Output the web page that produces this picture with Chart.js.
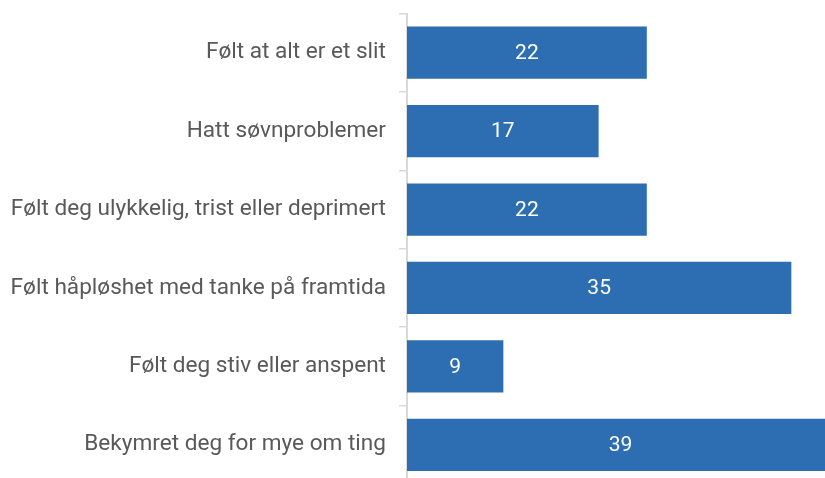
<!DOCTYPE html>
<html>
<head>
<meta charset="utf-8">
<script src="https://cdn.jsdelivr.net/npm/chart.js@4.4.1/dist/chart.umd.min.js"></script>
<style>
  html, body { margin: 0; padding: 0; background: #fff; }
  #wrap { width: 825px; height: 478px; overflow: hidden; position: relative; }
  #box { width: 845px; height: 484px; position: absolute; left: 0; top: 0; }
</style>
</head>
<body>
<div id="wrap"><div id="box"><canvas id="chart"></canvas></div></div>
<script>
const categories = [
  "Følt at alt er et slit",
  "Hatt søvnproblemer",
  "Følt deg ulykkelig, trist eller deprimert",
  "Følt håpløshet med tanke på framtida",
  "Følt deg stiv eller anspent",
  "Bekymret deg for mye om ting"
];
// bar lengths; labels show the rounded figures
const values = [21.9, 17.5, 21.9, 35.1, 8.8, 39.0];
const shownLabels = ["22", "17", "22", "35", "9", "39"];

const barColor = "#2d6eb3";
const axisColor = "#d9d9d9";
const textColor = "#595959";

// white value labels in the middle of each bar
const valueLabels = {
  id: "valueLabels",
  afterDatasetsDraw(chart) {
    const ctx = chart.ctx;
    const meta = chart.getDatasetMeta(0);
    ctx.save();
    ctx.fillStyle = "#ffffff";
    ctx.font = "21px Roboto";
    ctx.textAlign = "center";
    ctx.textBaseline = "middle";
    meta.data.forEach((bar, i) => {
      const cx = (bar.x + bar.base) / 2;
      ctx.fillText(shownLabels[i], cx, bar.y + 1);
    });
    ctx.restore();
  }
};

new Chart(document.getElementById("chart"), {
  type: "bar",
  data: {
    labels: categories,
    datasets: [{
      data: values,
      backgroundColor: barColor,
      categoryPercentage: 0.667,
      barPercentage: 1.0
    }]
  },
  options: {
    indexAxis: "y",
    responsive: true,
    maintainAspectRatio: false,
    animation: false,
    layout: { padding: { top: 13.5, right: 0, bottom: 0, left: 0 } },
    plugins: {
      legend: { display: false },
      tooltip: { enabled: false }
    },
    scales: {
      x: {
        display: false,
        min: 0,
        max: 40
      },
      y: {
        afterFit(scale) {
          scale.width = 407;
          scale.paddingTop = 0;
          scale.paddingBottom = 0;
        },
        grid: {
          drawOnChartArea: false,
          drawTicks: true,
          tickLength: 8,
          color: axisColor,
          lineWidth: 1.5,
          offset: true
        },
        border: { color: axisColor, width: 2 },
        ticks: {
          color: textColor,
          padding: 13,
          font: { family: "Roboto", size: 22.6 }
        }
      }
    }
  },
  plugins: [valueLabels]
});
</script>
</body>
</html>
